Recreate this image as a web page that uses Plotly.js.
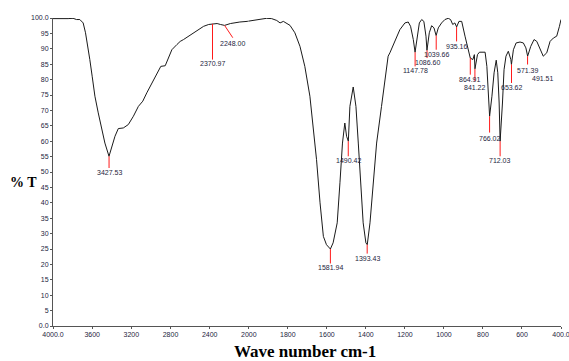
<!DOCTYPE html>
<html>
<head>
<meta charset="utf-8">
<script src="https://cdn.plot.ly/plotly-3.0.1.min.js"></script>
<style>html,body{margin:0;padding:0;background:#fff;overflow:hidden;}#chart{width:569px;height:361px;}</style>
</head>
<body>
<div id="chart"></div>
<script>
// ---- data ----
const wavenumber = [4000,3914,3846,3795,3760,3726,3692,3668,3647,3624,3600,3572,3538,3504,3470,3428,3401,3367,3333,3282,3231,3179,3128,3083,3042,2991,2940,2899,2854,2820,2786,2734,2701,2667,2564,2462,2410,2371,2324,2290,2248,2188,2120,2092,2017,2000,
1978,1935,1909,1883,1857,1840,1823,1789,1764,1738,1713,1687,1670,1653,1635,1618,1602,1582,1568,1547,1533,1520,1508,1499,1490,1482,1465,1451,1439,1427,1414,1400,1393,1379,1362,1345,1320,1286,1277,1251,1226,1200,1183,1171,1157,1148,1137,1126,1114,1103,1092,1087,1075,1063,1051,1040,1029,1012,995,978,966,955,944,935,923,909,892,875,865,852,844,841,828,818,789,780,772,766,754,743,732,724,717,712,700,692,682,670,657,654,644,630,610,593,580,571,555,538,524,507,491,473,456,439,422,408,400];
const transmittance = [99.8,99.7,99.8,99.9,99.5,99.5,98.4,95.2,91.4,86.5,81.1,74.6,69.2,63.8,59.4,55.1,58.3,61.6,64.1,64.3,65.4,68.1,71.3,73.0,75.7,78.9,81.6,84.3,84.5,87.0,89.7,91.4,92.4,93.0,95.2,97.3,97.9,98.1,98.2,97.9,97.6,98.2,98.6,98.7,98.9,99.0,
99.2,99.5,99.9,99.8,99.2,98.4,98.9,97.6,95.2,90.8,84.3,74.6,64.8,54.0,40.0,29.1,26.4,25.0,27.0,33.5,46.5,59.4,65.9,61.6,60.0,71.3,77.6,71.3,59.4,48.6,33.5,27.0,26.4,33.5,46.5,59.4,71.3,87.6,88.7,92.4,96.2,98.4,98.7,97.3,93.0,88.9,93.0,98.4,99.5,98.9,94.1,89.5,95.2,97.5,96.8,94.3,96.8,98.4,99.5,99.9,99.5,97.9,98.4,97.1,98.9,98.9,94.1,89.7,87.0,86.5,88.1,83.5,88.1,88.9,88.9,84.3,75.7,68.1,74.6,82.2,86.3,82.2,72.4,60.0,72.4,83.2,87.6,89.2,86.5,84.9,89.7,91.9,92.2,91.9,90.3,87.6,90.8,93.0,92.4,89.7,87.6,88.7,92.4,93.5,94.1,97.3,99.5];

const peakWn     = [3427.53,2370.97,2248.00,1581.94,1490.42,1393.43,1147.78,1086.60,1039.66,935.16,864.91,841.22,766.02,712.03,653.62,571.39,491.51];
const peakT      = [55.1,98.1,97.6,25.0,60.0,26.4,88.9,89.5,94.3,97.1,87.0,83.5,68.1,60.0,84.9,87.6,87.6];
const peakLabels = ["3427.53","2370.97","2248.00","1581.94","1490.42","1393.43","1147.78","1086.60","1039.66","935.16","864.91","841.22","766.02","712.03","653.62","571.39","491.51"];

const xTickVals1 = [4000,3600,3200,2800,2400];
const xTickText1 = ["4000.0","3600","3200","2800","2400"];
const xTickVals2 = [2000,1800,1600,1400,1200,1000,800,600,400];
const xTickText2 = ["2000","1800","1600","1400","1200","1000","800","600","400.0"];
const yTickVals = [0,5,10,15,20,25,30,35,40,45,50,55,60,65,70,75,80,85,90,95,100];
const yTickText = ["0.0","5","10","15","20","25","30","35","40","45","50","55","60","65","70","75","80","85","90","95","100.0"];

// ---- callout layout (positions only) ----
const calloutDrop = [3.8,11.6,4.0,4.7,4.9,2.9,4.6,2.5,4.6,4.7,5.4,4.1,5.3,4.9,6.0,2.7,0];
const labelDrop   = [5.2,13.0,5.9,5.9,6.3,4.6,6.0,4.1,6.0,6.3,7.0,6.0,7.1,6.3,7.4,4.7,7.4];
const calloutShiftX = {"2248.00": -84}; // slanted leader

// ---- build ----
const hi = {x:[],y:[]}, lo = {x:[],y:[]};
wavenumber.forEach((w,i)=>{
  if (w >= 2000) { hi.x.push(w); hi.y.push(transmittance[i]); }
  if (w <= 2000) { lo.x.push(w); lo.y.push(transmittance[i]); }
});
const lineStyle = {color:'#1a1a1a', width:1};
const traces = [
  {x:hi.x, y:hi.y, xaxis:'x', yaxis:'y', mode:'lines', line:lineStyle, hoverinfo:'skip', showlegend:false},
  {x:lo.x, y:lo.y, xaxis:'x2', yaxis:'y', mode:'lines', line:lineStyle, hoverinfo:'skip', showlegend:false}
];

const tickFont = {family:'Liberation Sans, Arial, sans-serif', size:7, color:'#1e2540'};
const shapes = [], annotations = [];
peakWn.forEach((w,i)=>{
  const ax = w > 2000 ? 'x' : 'x2';
  const shift = calloutShiftX[peakLabels[i]] || 0;
  const xEnd = w + shift;
  if (calloutDrop[i] > 0) {
    shapes.push({type:'line', xref:ax, yref:'y', x0:w, y0:peakT[i], x1:xEnd, y1:peakT[i]-calloutDrop[i],
      line:{color:'#ff1a1a', width:1}});
  }
  annotations.push({xref:ax, yref:'y', x:xEnd, y:peakT[i]-labelDrop[i], text:peakLabels[i], showarrow:false,
    xanchor:'center', yanchor:'middle', font:tickFont, borderpad:0});
});
annotations.push({xref:'paper', yref:'paper', x:-0.058, y:0.4646, text:'% T', showarrow:false,
  xanchor:'center', yanchor:'middle', font:{family:'Liberation Serif, Times New Roman, serif', size:14, color:'#000', weight:'bold'}});
annotations.push({xref:'paper', yref:'paper', x:0.4958, y:-0.0841, text:'Wave number cm-1', showarrow:false,
  xanchor:'center', yanchor:'middle', font:{family:'Liberation Serif, Times New Roman, serif', size:17, color:'#000', weight:'bold'}});

const split = 0.3855;
const axCommon = {showline:true, linecolor:'#555', linewidth:1, showgrid:false, zeroline:false,
  ticks:'outside', ticklen:2, tickcolor:'#555', tickfont:tickFont, tickmode:'array', fixedrange:true,
  ticklabeloverflow:'allow'};
const layout = {
  width:569, height:361,
  margin:{l:53.3, r:8, t:18.4, b:34.6, pad:0},
  paper_bgcolor:'#fff', plot_bgcolor:'#fff',
  showlegend:false,
  xaxis: Object.assign({}, axCommon, {domain:[0,split], range:[4000,2000], anchor:'y', tickvals:xTickVals1, ticktext:xTickText1}),
  xaxis2: Object.assign({}, axCommon, {domain:[split,1], range:[2000,400], anchor:'y', tickvals:xTickVals2, ticktext:xTickText2}),
  yaxis: Object.assign({}, axCommon, {range:[0,100], anchor:'x', tickvals:yTickVals, ticktext:yTickText}),
  shapes:shapes, annotations:annotations
};
Plotly.newPlot('chart', traces, layout, {staticPlot:true, displayModeBar:false});
</script>
</body>
</html>
